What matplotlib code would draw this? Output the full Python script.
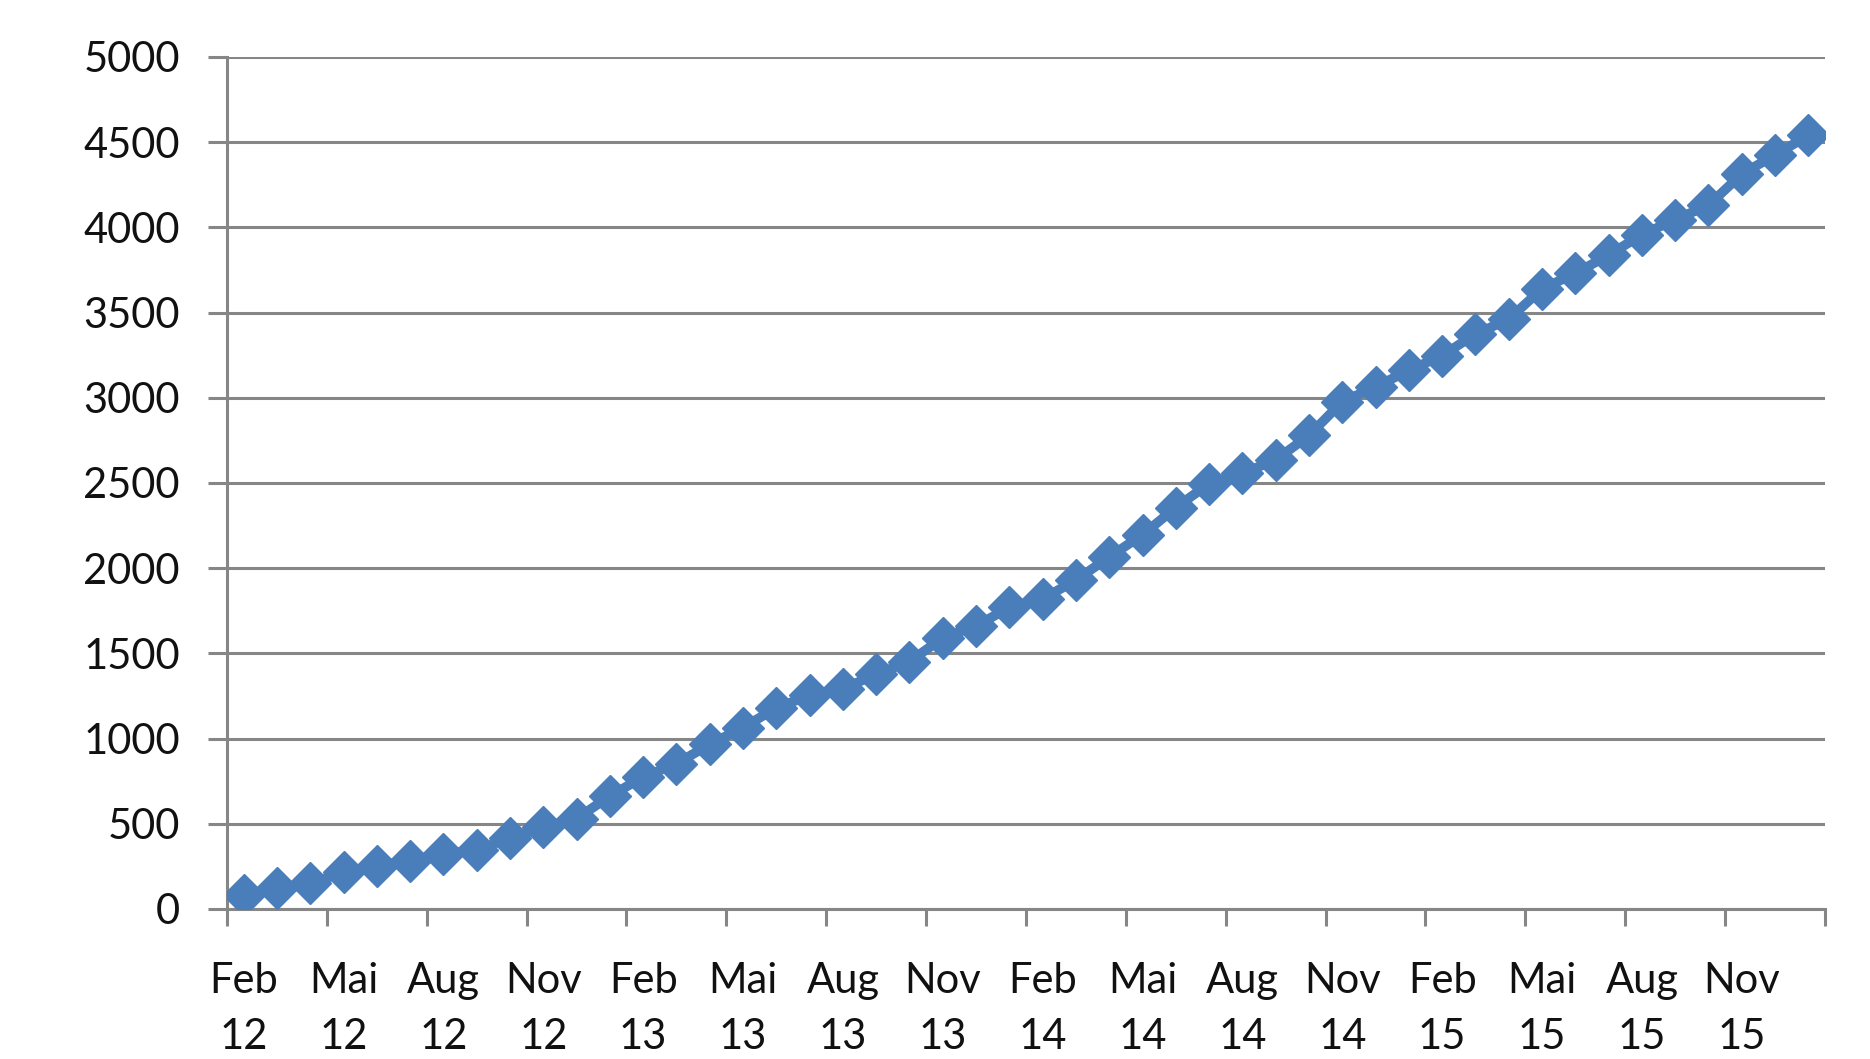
import numpy as np
import matplotlib
matplotlib.use("Agg")
import matplotlib.pyplot as plt

# monthly values, Feb 2012 .. Jan 2016
months = ["Feb", "Mär", "Apr", "Mai", "Jun", "Jul", "Aug", "Sep", "Okt", "Nov", "Dez", "Jan"]
values = [85, 125, 150, 215, 254, 283, 323, 346,
          417, 480, 530, 663, 774, 853, 966, 1065,
          1180, 1254, 1293, 1377, 1452, 1591, 1661, 1770,
          1820, 1930, 2066, 2196, 2356, 2496, 2556, 2636,
          2779, 2977, 3064, 3161, 3248, 3374, 3461, 3640,
          3730, 3838, 3957, 4046, 4130, 4313, 4425, 4540]
y_ticks = list(range(0, 5001, 500))

# build category labels "Feb\n12" etc.
labels = []
for i in range(len(values)):
    m = months[i % 12]
    year = 12 + (i + 1) // 12
    labels.append(f"{m}\n{year}")

plt.rcParams['font.family'] = ['Lato', 'DejaVu Sans']

W, H = 1870, 1059
fig = plt.figure(figsize=(W / 100, H / 100), dpi=100)
ax = fig.add_axes([227 / W, 1 - 909 / H, (1825 - 227) / W, (909 - 57) / H])

x = np.arange(len(values))
ax.plot(x, values, color='#4a7ebb', lw=7, marker='D', ms=21,
        mec='#4a7ebb', mfc='#4a7ebb', zorder=3)

ax.set_xlim(-0.5, len(values) - 0.5)
ax.set_ylim(0, 5000)
ax.set_yticks(y_ticks)
ax.set_yticklabels([str(v) for v in y_ticks])

# tick marks between categories, labels on every 3rd category
ax.set_xticks(np.arange(-0.5, len(values), 3))
ax.set_xticklabels([])
ax.set_xticks(x[::3], minor=True)
ax.set_xticklabels(labels[::3], minor=True, linespacing=1.6)

grid_c = '#868686'
ax.yaxis.grid(True, color=grid_c, lw=2.2)
ax.set_axisbelow(True)
for s in ['top', 'right']:
    ax.spines[s].set_visible(False)
for s in ['left', 'bottom']:
    ax.spines[s].set_color(grid_c)
    ax.spines[s].set_linewidth(2.2)

ax.tick_params(axis='y', which='major', length=14, width=2.2, color=grid_c,
               pad=20, labelsize=30, labelcolor='#111111')
ax.tick_params(axis='x', which='major', length=12, width=2.2, color=grid_c)
ax.tick_params(axis='x', which='minor', length=0, pad=38,
               labelsize=30, labelcolor='#111111')

fig.savefig("out.png", dpi=100, facecolor='white')
